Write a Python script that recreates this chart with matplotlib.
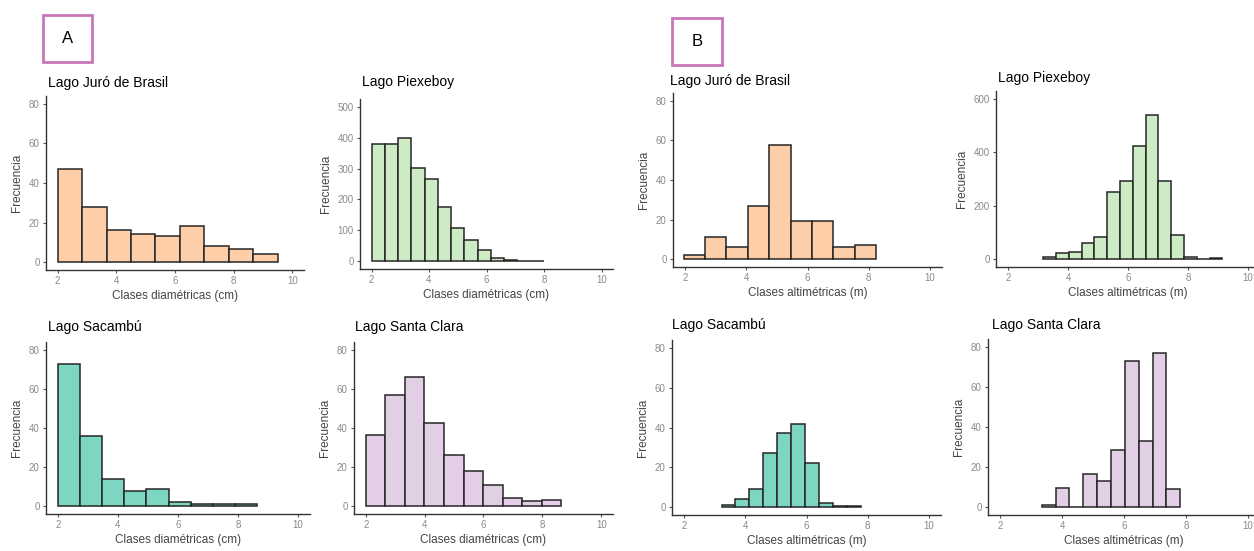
import numpy as np
import matplotlib
matplotlib.use("Agg")
import matplotlib.pyplot as plt
from matplotlib.patches import Rectangle

plt.rcParams['font.family'] = ['Liberation Sans', 'DejaVu Sans']

# --- data (bin start, bin width, counts) ---
lagos = ["Lago Juró de Brasil", "Lago Piexeboy", "Lago Sacambú", "Lago Santa Clara"]
colores = ["#fdcea8", "#cdebc5", "#7dd6c2", "#e2cfe6"]

# A: diameter classes (cm)
diam_inicio = [2.0, 2.0, 2.0, 2.0]
diam_ancho = [0.833, 0.4615, 0.737, 0.665]
diam_juro = [47, 28, 16, 14, 13, 18, 8, 6.5, 4]
diam_piexeboy = [378, 381, 400, 303, 265, 174, 108, 70, 35, 10, 4, 2, 1]
diam_sacambu = [72.6, 36, 14, 8, 9, 2, 1, 1, 1]
diam_santa_clara = [36.6, 57, 66, 42.4, 26, 18, 11, 4, 2.5, 3.4]

# B: altimetric classes (m)
alti_inicio = [1.95, 3.17, 3.22, 3.34]
alti_ancho = [0.70, 0.427, 0.457, 0.448]
alti_juro = [2, 11, 6, 27, 57.5, 19.5, 19.5, 6, 7]
alti_piexeboy = [6, 21, 28, 61, 84, 253, 291, 425, 541, 291, 90, 6, 0, 4]
alti_sacambu = [1, 4, 9, 27, 37.4, 42, 22, 2, 0.3, 0.3]
alti_santa_clara = [1, 9.7, 0, 16.7, 13, 28.7, 73, 33, 77, 9]

x_ticks = [2, 4, 6, 8, 10]
y_ticks_80 = [0, 20, 40, 60, 80]
y_ticks_500 = [0, 100, 200, 300, 400, 500]
y_ticks_600 = [0, 200, 400, 600]

W, H = 1254, 551
fig = plt.figure(figsize=(W / 100, H / 100), dpi=100)


def px_axes(left, right, top, bottom):
    return fig.add_axes([left / W, 1 - bottom / H, (right - left) / W, (bottom - top) / H])


def draw_hist(ax, start, width, counts, color, yticks, xlabel):
    edges = start + width * np.arange(len(counts))
    ax.bar(edges, counts, width=width, align='edge', color=color,
           edgecolor='#262626', linewidth=1.1)
    ymax = yticks[-1]
    ax.set_xlim(1.6, 10.4)
    ax.set_ylim(-0.05 * ymax, 1.05 * ymax)
    ax.set_xticks(x_ticks)
    ax.set_yticks(yticks)
    for s in ['top', 'right']:
        ax.spines[s].set_visible(False)
    for s in ['left', 'bottom']:
        ax.spines[s].set_color('#333333')
        ax.spines[s].set_linewidth(1.0)
    ax.tick_params(labelsize=7, labelcolor='#8a8a8a', color='#555555',
                   length=2.5, width=0.8, pad=2)
    ax.set_xlabel(xlabel, fontsize=8.5, color='#444444', labelpad=3)
    ax.set_ylabel("Frecuencia", fontsize=8.5, color='#444444', labelpad=4)


xl_a = "Clases diamétricas (cm)"
xl_b = "Clases altimétricas (m)"

ax = px_axes(46, 304, 96, 270)
draw_hist(ax, diam_inicio[0], diam_ancho[0], diam_juro, colores[0], y_ticks_80, xl_a)
ax = px_axes(360, 613, 99, 269)
draw_hist(ax, diam_inicio[1], diam_ancho[1], diam_piexeboy, colores[1], y_ticks_500, xl_a)
ax = px_axes(46, 310, 342, 514)
draw_hist(ax, diam_inicio[2], diam_ancho[2], diam_sacambu, colores[2], y_ticks_80, xl_a)
ax = px_axes(354, 613, 342, 514)
draw_hist(ax, diam_inicio[3], diam_ancho[3], diam_santa_clara, colores[3], y_ticks_80, xl_a)

ax = px_axes(673, 942, 93, 267)
draw_hist(ax, alti_inicio[0], alti_ancho[0], alti_juro, colores[0], y_ticks_80, xl_b)
ax = px_axes(996, 1260, 91, 267)
draw_hist(ax, alti_inicio[1], alti_ancho[1], alti_piexeboy, colores[1], y_ticks_600, xl_b)
ax = px_axes(672, 941, 340, 515)
draw_hist(ax, alti_inicio[2], alti_ancho[2], alti_sacambu, colores[2], y_ticks_80, xl_b)
ax = px_axes(988, 1260, 339, 515)
draw_hist(ax, alti_inicio[3], alti_ancho[3], alti_santa_clara, colores[3], y_ticks_80, xl_b)

# panel titles
title_pos = [(48, 83), (362, 82), (48, 327), (355, 327),
             (670, 81), (998, 78), (672, 325), (992, 325)]
for i, (x, y) in enumerate(title_pos):
    fig.text(x / W, 1 - y / H, lagos[i % 4], fontsize=10, ha='left', va='center')

# boxed tags A / B
for tag, (x0, y0, x1, y1) in [("A", (43, 15, 92, 62)), ("B", (672, 18, 722, 65))]:
    fig.add_artist(Rectangle((x0 / W, 1 - y1 / H), (x1 - x0) / W, (y1 - y0) / H,
                             transform=fig.transFigure, fill=False,
                             edgecolor='#c877b9', linewidth=2))
    fig.text((x0 + x1) / 2 / W, 1 - (y0 + y1) / 2 / H, tag, fontsize=12,
             ha='center', va='center')

fig.savefig("out.png", dpi=100)
